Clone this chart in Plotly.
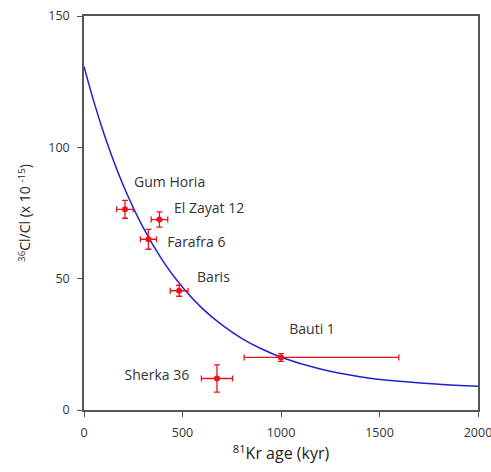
import plotly.graph_objects as go

# Sample data
names = ["Gum Horia", "El Zayat 12", "Farafra 6", "Baris", "Bauti 1", "Sherka 36"]
kr_age = [208, 383, 327, 483, 1000, 675]
kr_err_plus = [42, 42, 41, 45, 598, 79]
kr_err_minus = [42, 42, 41, 45, 187, 79]
cl_ratio = [76.4, 72.5, 65.0, 45.4, 20.0, 12.0]
cl_err = [3.4, 2.9, 3.8, 2.1, 1.5, 5.2]

# Decay curve
curve_x = [0, 50, 100, 150, 200, 300, 400, 500, 600, 700, 800, 900, 1000,
           1200, 1400, 1600, 1800, 2000]
curve_y = [130.8, 117.4, 105.5, 94.9, 85.4, 69.5, 56.8, 46.7, 38.7, 32.4, 27.3,
           23.3, 20.1, 15.6, 12.7, 10.9, 9.8, 9.0]

# Label anchor positions (data coords)
label_x = [254, 457, 422, 574, 1042, 534]
label_y = [86.3, 76.4, 63.5, 50.2, 30.4, 12.9]
label_pos = ["middle right", "middle right", "middle right", "middle right",
             "middle right", "middle left"]

x_ticks = [0, 500, 1000, 1500, 2000]
y_ticks = [0, 50, 100, 150]

fig = go.Figure()
fig.add_trace(go.Scatter(
    x=curve_x, y=curve_y, mode="lines",
    line=dict(color="#2020d0", width=1.5, shape="spline"),
    hoverinfo="skip", showlegend=False))
fig.add_trace(go.Scatter(
    x=kr_age, y=cl_ratio, mode="markers",
    marker=dict(color="#e8141a", size=6),
    error_x=dict(type="data", array=kr_err_plus, arrayminus=kr_err_minus,
                 symmetric=False, color="#e8141a", thickness=1.3, width=3),
    error_y=dict(type="data", array=cl_err, color="#e8141a", thickness=1.3, width=3),
    text=names, showlegend=False))
fig.add_trace(go.Scatter(
    x=label_x, y=label_y, mode="text", text=names, textposition=label_pos,
    textfont=dict(family="Open Sans", size=14, color="#333333"),
    hoverinfo="skip", showlegend=False, cliponaxis=False))

axis_common = dict(showline=True, linecolor="#555555", linewidth=1.5, mirror=True,
                   ticks="outside", ticklen=5, tickcolor="#555555", tickwidth=1.2,
                   showgrid=False, zeroline=False, automargin=False,
                   ticklabeloverflow="allow",
                   tickfont=dict(family="Open Sans", size=12.5, color="#333333"))

fig.update_xaxes(range=[0, 2000], tickvals=x_ticks, ticklabelstandoff=5,
                 title=dict(text="<sup>81</sup>Kr age (kyr)", standoff=8,
                            font=dict(family="Open Sans", size=16, color="#222222")),
                 **axis_common)
fig.update_yaxes(range=[0, 150], tickvals=y_ticks, ticklabelstandoff=5,
                 title=dict(text="<sup>36</sup>Cl/Cl (x 10 <sup>-15</sup>)", standoff=14,
                            font=dict(family="Open Sans", size=14, color="#222222")),
                 **axis_common)

fig.update_layout(width=491, height=472, plot_bgcolor="white", paper_bgcolor="white",
                  margin=dict(l=84, r=13, t=16, b=62))

fig.write_html("out.html", config={"displayModeBar": False},
               post_script="document.body.style.margin='0';")
